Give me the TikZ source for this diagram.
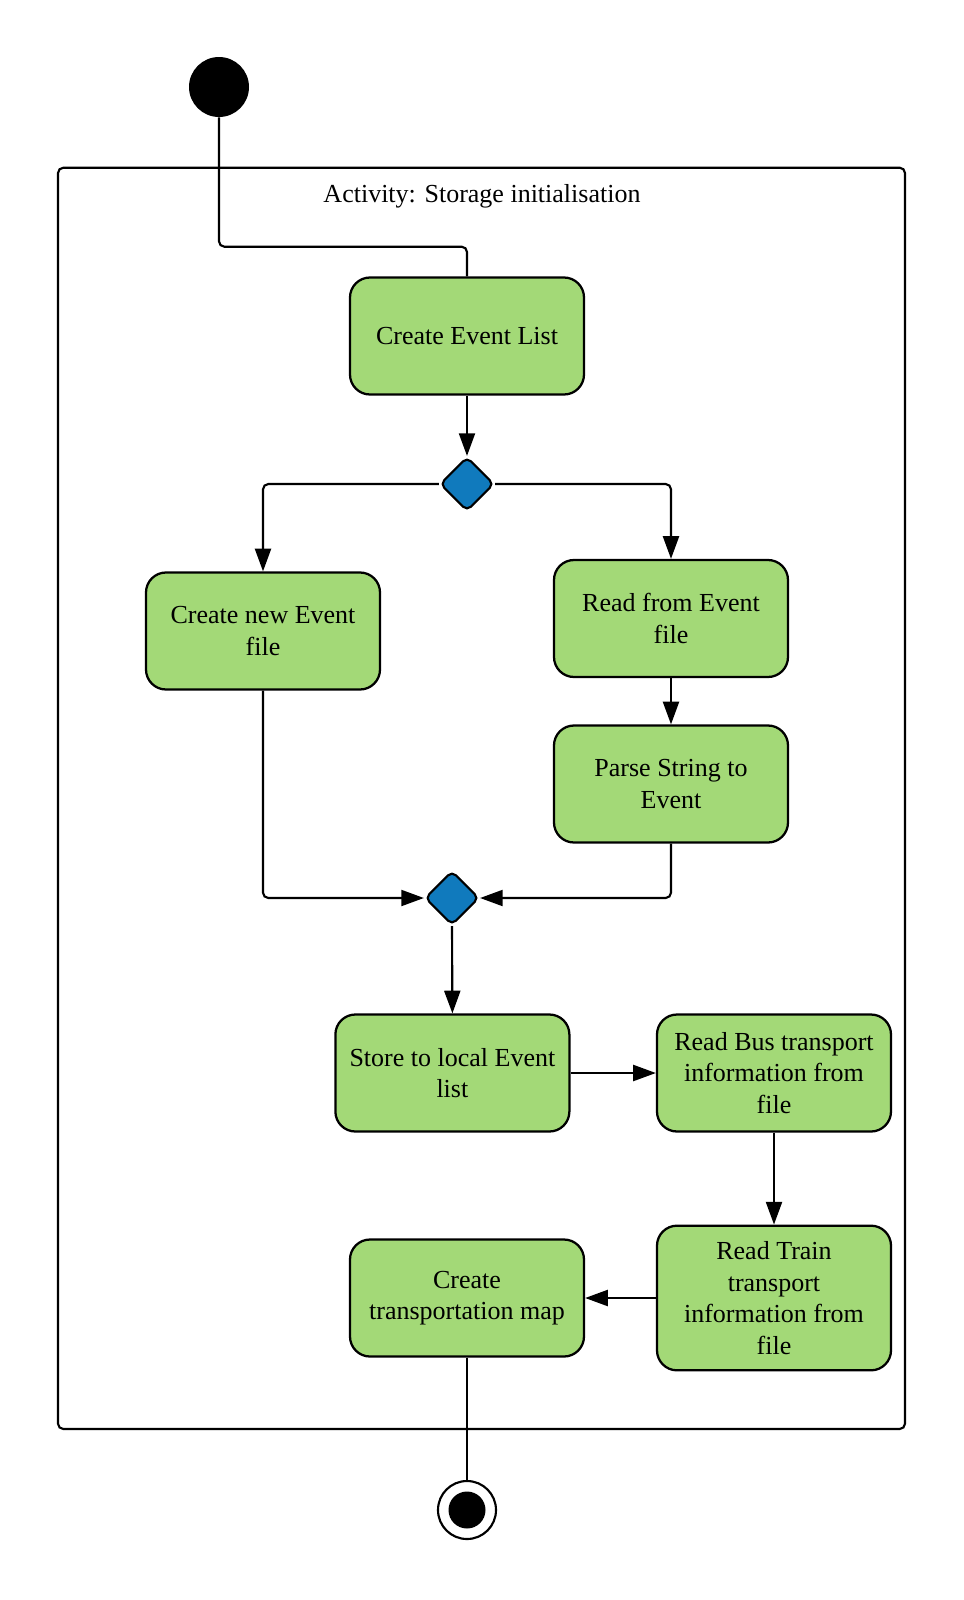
\documentclass[tikz,border=0pt]{standalone}
\usepackage{fontspec}
\setmainfont{Liberation Serif}
\usetikzlibrary{shapes.geometric,arrows.meta,calc}
\definecolor{actgreen}{HTML}{A3D977}
\definecolor{decblue}{HTML}{107ABD}
\tikzset{
  actbox/.style={draw=black, fill=actgreen, rounded corners=15pt, line width=1.7pt,
    minimum width=175.5pt, minimum height=87.75pt, align=center, inner sep=0pt,
    font=\fontsize{19.5}{23.7}\selectfont},
  decision/.style={diamond, draw=black, fill=decblue, line width=1.6pt, inner sep=0pt,
    minimum width=40.5pt, minimum height=40.5pt, rounded corners=4pt},
  flow/.style={line width=1.6pt, draw=black},
  arr/.style={flow, -{Triangle[length=17pt,width=12pt]}},
}
\begin{document}
\begin{tikzpicture}[x=0.75pt,y=-0.75pt]
\useasboundingbox (0,0) rectangle (964,1600);
\fill[white] (0,0) rectangle (964,1600);
% frame
\draw[line width=1.6pt, rounded corners=4pt] (58,167.7) rectangle (905,1429);
\node[font=\fontsize{19.5}{23.7}\selectfont] (title) at (482,196) {Activity: Storage initialisation};
% nodes
\node[circle, fill=black, minimum size=45pt, inner sep=0pt] (start) at (219,87) {};
\node[actbox] (cel) at (467,336) {Create Event List};
\node[decision] (d1) at (467,484) {};
\node[actbox] (cnf) at (263,631) {Create new Event\\file};
\node[actbox] (rfe) at (671,618.5) {Read from Event\\file};
\node[actbox] (pse) at (671,784) {Parse String to\\Event};
\node[decision] (d2) at (452,898) {};
\node[actbox] (stl) at (452.4,1073) {Store to local Event\\list};
\node[actbox] (rbt) at (774,1073) {Read Bus transport\\information from\\file};
\node[actbox, minimum height=108.5pt] (rtt) at (774,1298) {Read Train\\transport\\information from\\file};
\node[actbox] (ctm) at (467,1298) {Create\\transportation map};
\node[circle, draw=black, fill=white, line width=1.6pt, minimum size=43.5pt, inner sep=0pt] (final) at (467,1510) {};
\node[circle, fill=black, minimum size=27.75pt, inner sep=0pt] (finalin) at (final.center) {};
% connectors
\coordinate (c1) at (467,246.7);
\draw[flow, rounded corners=4pt] (start.south) |- (c1) -- (cel.north);
\draw[arr] (cel.south) -- (d1.north);
\draw[arr, rounded corners=4pt] (d1.west) -| (cnf.north);
\draw[arr, rounded corners=4pt] (d1.east) -| (rfe.north);
\draw[arr] (rfe.south) -- (pse.north);
\draw[arr, rounded corners=4pt] (cnf.south) |- (d2.west);
\draw[arr, rounded corners=4pt] (pse.south) |- (d2.east);
\draw[arr] (d2.south) -- (stl.north);
\draw[arr] (stl.east) -- (rbt.west);
\draw[arr] (rbt.south) -- (rtt.north);
\draw[arr] (rtt.west) -- (ctm.east);
\draw[flow] (ctm.south) -- (final.north);
\end{tikzpicture}
\end{document}
